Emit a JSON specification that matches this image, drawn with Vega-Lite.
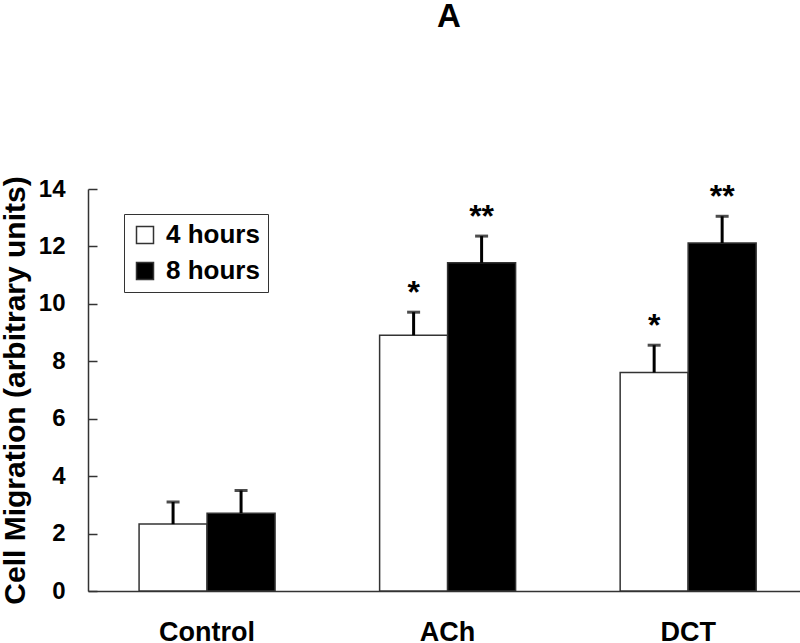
{
  "$schema": "https://vega.github.io/schema/vega-lite/v6.json",
  "width": 712,
  "height": 402,
  "padding": 0,
  "background": "white",
  "title": {"text": "A", "fontSize": 33, "font": "Liberation Sans", "fontWeight": "bold", "anchor": "middle", "offset": 142, "dx": 5, "color": "black"},
  "config": {"view": {"stroke": null}, "font": "Liberation Sans"},
  "data": {"values": [
    {"group": "Control", "time": "4 hours", "value": 2.33, "upper": 3.10, "sig": ""},
    {"group": "Control", "time": "8 hours", "value": 2.71, "upper": 3.50, "sig": ""},
    {"group": "ACh", "time": "4 hours", "value": 8.91, "upper": 9.71, "sig": "*"},
    {"group": "ACh", "time": "8 hours", "value": 11.43, "upper": 12.36, "sig": "**"},
    {"group": "DCT", "time": "4 hours", "value": 7.61, "upper": 8.56, "sig": "*"},
    {"group": "DCT", "time": "8 hours", "value": 12.12, "upper": 13.05, "sig": "**"}
  ]},
  "encoding": {
    "x": {
      "field": "group", "type": "nominal", "sort": ["Control", "ACh", "DCT"],
      "scale": {"paddingInner": 0.1, "paddingOuter": 0.03, "align": 0.75, "round": false},
      "axis": {"title": null, "labelAngle": 0, "ticks": false, "labelFontSize": 27, "labelFontWeight": "bold", "labelColor": "black", "labelPadding": 28, "domainColor": "#333", "domainWidth": 1.5}
    },
    "xOffset": {"field": "time", "type": "nominal", "scale": {"paddingInner": 0, "paddingOuter": 0.592, "round": false}}
  },
  "layer": [
    {
      "mark": {"type": "bar", "stroke": "#333", "strokeWidth": 1.5},
      "encoding": {
        "y": {
          "field": "value", "type": "quantitative",
          "scale": {"domain": [0, 14], "nice": false},
          "axis": {"title": "Cell Migration (arbitrary units)", "titleFontSize": 30, "titleFontWeight": "bold", "titleColor": "black", "titlePadding": 8,
                   "labelFontSize": 24, "labelFontWeight": "bold", "labelColor": "black", "values": [0, 2, 4, 6, 8, 10, 12, 14],
                   "tickSize": -9, "labelPadding": 32, "domainColor": "#333", "domainWidth": 1.5, "tickColor": "#333", "tickWidth": 1.5, "grid": false}
        },
        "fill": {
          "field": "time", "type": "nominal",
          "scale": {"domain": ["4 hours", "8 hours"], "range": ["white", "black"]},
          "legend": {"title": null, "orient": "none", "legendX": 36, "legendY": 25, "symbolType": "square", "symbolSize": 289,
                     "symbolStrokeColor": "#333", "symbolStrokeWidth": 1.5, "labelFontSize": 26, "labelFontWeight": "bold", "labelColor": "black",
                     "labelOffset": 8, "rowPadding": 10, "padding": 8, "strokeColor": "#333"}
        }
      }
    },
    {
      "mark": {"type": "rule", "color": "black", "strokeWidth": 3},
      "encoding": {
        "y": {"field": "value", "type": "quantitative", "title": "Cell Migration (arbitrary units)"},
        "y2": {"field": "upper"}
      }
    },
    {
      "mark": {"type": "tick", "color": "black", "thickness": 3, "size": 13},
      "encoding": {
        "y": {"field": "upper", "type": "quantitative", "title": "Cell Migration (arbitrary units)"}
      }
    },
    {
      "mark": {"type": "text", "fontSize": 32, "fontWeight": "bold", "baseline": "alphabetic", "dy": -9, "color": "black"},
      "encoding": {
        "y": {"field": "upper", "type": "quantitative", "title": "Cell Migration (arbitrary units)"},
        "text": {"field": "sig"}
      }
    }
  ]
}
